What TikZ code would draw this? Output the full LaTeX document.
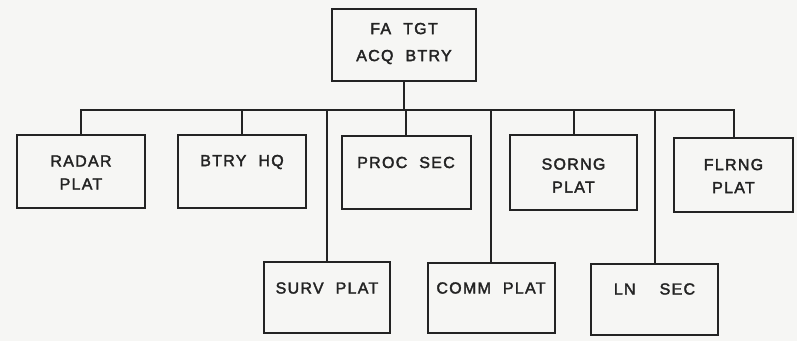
\documentclass[tikz,border=0pt]{standalone}
\usepackage{fontspec}
\setmainfont{Liberation Sans}[LetterSpace=8,FakeBold=2.2]
\definecolor{ink}{RGB}{35,35,35}
\definecolor{paper}{RGB}{246,246,244}
\newcommand{\wsp}{\hspace{0.75em}}
\begin{document}
\begin{tikzpicture}[x=1pt,y=-1pt,
  box/.style={draw=ink,line width=2pt,inner sep=0pt},
  txt/.style={text=ink,font=\fontsize{16}{23}\selectfont,align=center,inner sep=0pt},
  conn/.style={draw=ink,line width=2pt}]
\fill[paper] (0,0) rectangle (797,341);
\useasboundingbox (0,0) rectangle (797,341);
% boxes
\node[box,minimum width=144pt,minimum height=72pt] (top) at (404,45) {};
\node[box,minimum width=128pt,minimum height=73pt] (radar) at (81,171.5) {};
\node[box,minimum width=128pt,minimum height=73pt] (btry) at (242,171.5) {};
\node[box,minimum width=129pt,minimum height=73pt] (proc) at (406,172.5) {};
\node[box,minimum width=127pt,minimum height=75pt] (sorng) at (573.5,172.5) {};
\node[box,minimum width=119pt,minimum height=74pt] (flrng) at (733.5,175) {};
\node[box,minimum width=126pt,minimum height=71pt] (surv) at (327,297.5) {};
\node[box,minimum width=127pt,minimum height=70pt] (comm) at (491,298) {};
\node[box,minimum width=127pt,minimum height=71pt] (ln) at (654.5,299.5) {};
% texts
\node[txt,font=\fontsize{16}{27}\selectfont] (topt) at (404,43.5) {FA\wsp TGT\\ACQ\wsp BTRY};
\node[txt] (radart) at (81,172.5) {RADAR\\PLAT};
\node[txt] (btryt) at (242,162) {BTRY\wsp HQ};
\node[txt] (proct) at (406,162.5) {PROC\wsp SEC};
\node[txt] (sorngt) at (573.5,175.5) {SORNG\\PLAT};
\node[txt] (flrngt) at (733.5,176) {FLRNG\\PLAT};
\node[txt] (survt) at (327,288) {SURV\wsp PLAT};
\node[txt] (commt) at (491,288) {COMM\wsp PLAT};
\node[txt] (lnt) at (654.5,289) {LN\wsp\wsp SEC};
% connectors
\coordinate (bus) at (404,110);
\draw[conn] (top.south) -- (bus);
\foreach \n in {radar,btry,proc,sorng,flrng,surv,comm,ln}
  \draw[conn] (\n.north) |- (bus);
\end{tikzpicture}
\end{document}
